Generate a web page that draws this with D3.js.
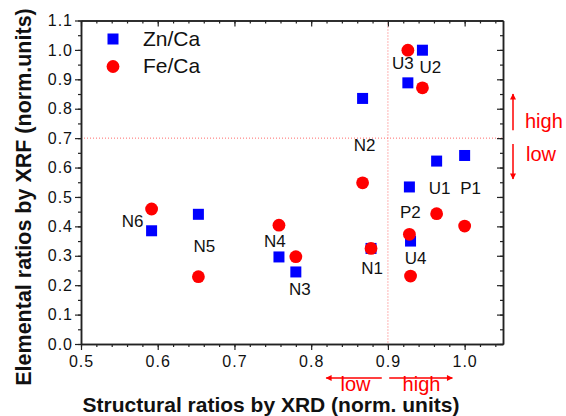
<!DOCTYPE html>
<html>
<head>
<meta charset="utf-8">
<script src="https://cdn.jsdelivr.net/npm/d3@7/dist/d3.min.js"></script>
<style>
  html, body { margin: 0; padding: 0; background: #fff; }
  svg { display: block; font-family: Arial, "Liberation Sans", sans-serif; }
</style>
</head>
<body>
<svg id="chart" width="566" height="416"></svg>
<script>
// ---- data ----
const samples = ["N6", "N5", "N4", "N3", "N2", "N1", "U3", "U2", "U1", "U4", "P2", "P1"];
const xrdRatio = [0.592, 0.653, 0.758, 0.780, 0.867, 0.878, 0.926, 0.945, 0.9635, 0.9295, 0.928, 1.000];
const znCa     = [0.385, 0.441, 0.296, 0.245, 0.835, 0.325, 0.888, 0.999, 0.622, 0.350, 0.534, 0.641];
const feCa     = [0.459, 0.229, 0.404, 0.297, 0.548, 0.325, 0.999, 0.871, 0.443, 0.231, 0.373, 0.401];
const xTicks = [0.5, 0.6, 0.7, 0.8, 0.9, 1.0];
const yTicks = [0.0, 0.1, 0.2, 0.3, 0.4, 0.5, 0.6, 0.7, 0.8, 0.9, 1.0, 1.1];
const seriesNames = ["Zn/Ca", "Fe/Ca"];
const xThreshold = 0.9, yThreshold = 0.7;

// label placement (pixel offsets from the Zn/Ca point)
const labelOffsets = {
  N6: [-19, -4], N5: [6, 38], N4: [-4, -10], N3: [4, 23], N2: [2, 53], N1: [1, 26],
  U3: [-5, -14], U2: [8, 23], U1: [3, 33], U4: [5, 23], P2: [1, 31], P1: [6, 39]
};

// ---- layout ----
const svg = d3.select("#chart");
const L = 81, R = 503, T = 20.5, B = 344;
const x = d3.scaleLinear().domain([0.5, 1.05]).range([L, R]);
const y = d3.scaleLinear().domain([0, 1.1]).range([B, T]);
const axisColor = "#222";
const blue = "#0000ff", red = "#ff0000";

// threshold dotted lines
svg.append("line").attr("x1", L).attr("x2", R).attr("y1", y(yThreshold)).attr("y2", y(yThreshold))
  .attr("stroke", "#ff6a6a").attr("stroke-width", 1).attr("stroke-dasharray", "1,2");
svg.append("line").attr("x1", x(xThreshold)).attr("x2", x(xThreshold)).attr("y1", T).attr("y2", B)
  .attr("stroke", "#ff6a6a").attr("stroke-width", 1).attr("stroke-dasharray", "1,2");

// axes
const minorX = d3.range(0.5, 1.0501, 0.02).map(v => +v.toFixed(2));
const minorY = d3.range(0, 1.1001, 0.05).map(v => +v.toFixed(2));
const fmt = d3.format(".1f");

function styleAxis(g) {
  g.selectAll("path.domain").attr("stroke", axisColor).attr("stroke-width", 1.5);
  g.selectAll(".tick line").attr("stroke", axisColor).attr("stroke-width", 1.2);
  g.selectAll(".tick text").attr("fill", "#111").style("font-size", "16px")
    .style("letter-spacing", "1px").style("font-family", "Arial, 'Liberation Sans', sans-serif");
}

// bottom
svg.append("g").attr("transform", `translate(0,${B})`)
  .call(d3.axisBottom(x).tickValues(minorX).tickSize(3).tickFormat("").tickSizeOuter(0)).call(styleAxis);
svg.append("g").attr("transform", `translate(0,${B})`)
  .call(d3.axisBottom(x).tickValues(xTicks).tickSize(6).tickFormat(fmt).tickSizeOuter(0).tickPadding(6)).call(styleAxis);
// top (inward)
svg.append("g").attr("transform", `translate(0,${T})`)
  .call(d3.axisBottom(x).tickValues(minorX).tickSize(3).tickFormat("").tickSizeOuter(0)).call(styleAxis);
svg.append("g").attr("transform", `translate(0,${T})`)
  .call(d3.axisBottom(x).tickValues(xTicks).tickSize(6).tickFormat("").tickSizeOuter(0)).call(styleAxis);
// left
svg.append("g").attr("transform", `translate(${L},0)`)
  .call(d3.axisLeft(y).tickValues(minorY).tickSize(3).tickFormat("").tickSizeOuter(0)).call(styleAxis);
svg.append("g").attr("transform", `translate(${L},0)`)
  .call(d3.axisLeft(y).tickValues(yTicks).tickSize(6).tickFormat(fmt).tickSizeOuter(0).tickPadding(2)).call(styleAxis);
// right (inward)
svg.append("g").attr("transform", `translate(${R},0)`)
  .call(d3.axisLeft(y).tickValues(minorY).tickSize(3).tickFormat("").tickSizeOuter(0)).call(styleAxis);
svg.append("g").attr("transform", `translate(${R},0)`)
  .call(d3.axisLeft(y).tickValues(yTicks).tickSize(6).tickFormat("").tickSizeOuter(0)).call(styleAxis);

// ---- data marks ----
const pts = samples.map((s, i) => ({ s, xv: xrdRatio[i], zn: znCa[i], fe: feCa[i] }));
const sq = 11, rad = 6.4;
svg.append("g").selectAll("rect").data(pts).join("rect")
  .attr("x", d => x(d.xv) - sq / 2).attr("y", d => y(d.zn) - sq / 2)
  .attr("width", sq).attr("height", sq).attr("fill", blue);
svg.append("g").selectAll("circle").data(pts).join("circle")
  .attr("cx", d => x(d.xv)).attr("cy", d => y(d.fe)).attr("r", rad).attr("fill", red);

// sample labels
svg.append("g").selectAll("text").data(pts).join("text")
  .attr("x", d => x(d.xv) + labelOffsets[d.s][0])
  .attr("y", d => y(d.zn) + labelOffsets[d.s][1])
  .attr("text-anchor", "middle").style("font-size", "17px").attr("fill", "#111")
  .text(d => d.s);

// legend
const lg = svg.append("g");
lg.append("rect").attr("x", 113 - sq / 2).attr("y", 39 - sq / 2).attr("width", sq).attr("height", sq).attr("fill", blue);
lg.append("circle").attr("cx", 113).attr("cy", 66.5).attr("r", rad).attr("fill", red);
lg.append("text").attr("x", 143).attr("y", 46).style("font-size", "21px").attr("fill", "#111").text(seriesNames[0]);
lg.append("text").attr("x", 143).attr("y", 73).style("font-size", "21px").attr("fill", "#111").text(seriesNames[1]);

// axis titles
svg.append("text").attr("x", 271).attr("y", 412).attr("text-anchor", "middle")
  .style("font-size", "21px").style("font-weight", "bold").attr("fill", "#111")
  .text("Structural ratios by XRD (norm. units)");
svg.append("text").attr("transform", "translate(31,197) rotate(-90)").attr("text-anchor", "middle")
  .style("font-size", "21.5px").style("font-weight", "bold").attr("fill", "#111")
  .text("Elemental ratios by XRF (norm.units)");

// ---- annotation arrows ----
const defs = svg.append("defs");
defs.append("marker").attr("id", "ah").attr("viewBox", "0 0 10 10").attr("refX", 9).attr("refY", 5)
  .attr("markerWidth", 8).attr("markerHeight", 6).attr("markerUnits", "userSpaceOnUse").attr("orient", "auto")
  .append("path").attr("d", "M0,0 L10,5 L0,10 Z").attr("fill", red);

function arrow(x1, y1, x2, y2) {
  svg.append("line").attr("x1", x1).attr("y1", y1).attr("x2", x2).attr("y2", y2)
    .attr("stroke", red).attr("stroke-width", 1.5).attr("marker-end", "url(#ah)");
}
const ax = R + 10;
arrow(ax, y(0.727), ax, y(0.85));
arrow(ax, y(0.68), ax, y(0.561));
const ay = 378;
arrow(x(0.892), ay, x(0.8196), ay);
arrow(x(0.9017), ay, x(0.984), ay);

svg.append("text").attr("x", 525).attr("y", 128).style("font-size", "20px").attr("fill", red).text("high");
svg.append("text").attr("x", 526).attr("y", 161).style("font-size", "20px").attr("fill", red).text("low");
svg.append("text").attr("x", 355.5).attr("y", 391).attr("text-anchor", "middle").style("font-size", "20px").attr("fill", red).text("low");
svg.append("text").attr("x", 421.5).attr("y", 391).attr("text-anchor", "middle").style("font-size", "20px").attr("fill", red).text("high");
</script>
</body>
</html>
